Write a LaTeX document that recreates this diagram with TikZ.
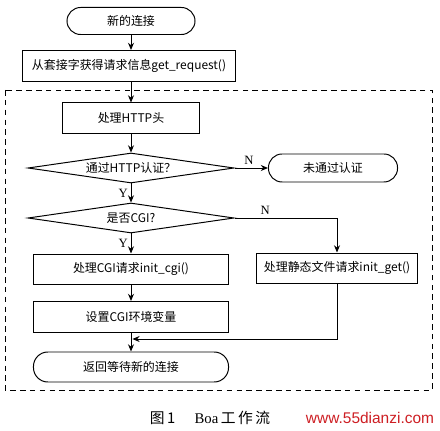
\documentclass[tikz,border=0pt]{standalone}
\usepackage{fontspec}
\setmainfont{Liberation Serif}
\newfontfamily\cjk{Noto Sans CJK SC}
\newfontfamily\wmfont{Liberation Sans}
\usepackage{tikz}
\usetikzlibrary{arrows.meta,shapes.geometric}
\definecolor{markred}{RGB}{205,30,35}

\begin{document}
\begin{tikzpicture}[x=0.025cm,y=-0.025cm,>={Stealth[length=1.8mm,width=1.5mm]},line width=0.7pt,
  font=\cjk\fontsize{8.5}{10}\selectfont,
  proc/.style={draw,rectangle,minimum height=0.75cm,inner sep=2pt},
  term/.style={draw,rectangle,rounded corners=0.34cm,minimum height=0.7cm},
  decide/.style={draw,diamond,aspect=7,minimum width=5.15cm,minimum height=0.75cm,inner sep=0pt},
  yn/.style={font=\rmfamily\fontsize{9}{10}\selectfont,inner sep=2pt}]
\useasboundingbox (0,0) rectangle (440,431);
% dashed frame of the request loop
\draw[dash pattern=on 4pt off 3pt] (5,90) rectangle (432,390);
\node[term,minimum width=3.2cm,minimum height=0.675cm] (start) at (131,21) {新的连接};
\node[proc,minimum width=5.3cm,minimum height=0.775cm] (getreq) at (129,66) {从套接字获得请求信息get\_request()};
\node[proc,minimum width=3.425cm] (http) at (131,118) {处理HTTP头};
\node[decide] (auth) at (131,168) {通过HTTP认证？};
\node[term,minimum width=3.225cm] (noauth) at (333,168) {未通过认证};
\node[decide] (cgi) at (131,218) {是否CGI?};
\node[proc,minimum width=4.875cm] (initcgi) at (131,269) {处理CGI请求init\_cgi()};
\node[proc,minimum width=4cm] (static) at (337,268) {处理静态文件请求init\_get()};
\node[proc,minimum width=4.875cm,minimum height=0.775cm] (setenv) at (131,317) {设置CGI环境变量};
\node[term,minimum width=4.875cm,minimum height=0.75cm,rounded corners=0.36cm] (ret) at (131,367) {返回等待新的连接};
\coordinate (join) at (131,339);
% connectors
\draw[->] (start.south) -- (start.south |- getreq.north);
\draw[->] (getreq.south -| http.north) -- (http.north);
\draw[->] (http) -- (auth);
\draw[->] (auth) -- node[yn,above,pos=0.43] (n1) {N} (noauth);
\draw[->] (auth) -- node[yn,left] (y1) {Y} (cgi);
\draw[->] (cgi.east) -| node[yn,above,pos=0.15] (n2) {N} (static.north);
\draw[->] (cgi) -- node[yn,left] (y2) {Y} (initcgi);
\draw[->] (initcgi) -- (setenv);
\draw[->] (setenv) -- (ret);
\draw[->,shorten >=1pt] (static.south) |- (join);
% caption
\node[font=\cjk\fontsize{10.5}{12}\selectfont] (cap) at (210,418) {图\,1\hspace{1.3em}{\rmfamily Boa}\,工\,作\,流};
\node[font=\wmfont\fontsize{11}{12}\selectfont,text=markred] (mark) at (370,418) {www.55dianzi.com};
\end{tikzpicture}
\end{document}
